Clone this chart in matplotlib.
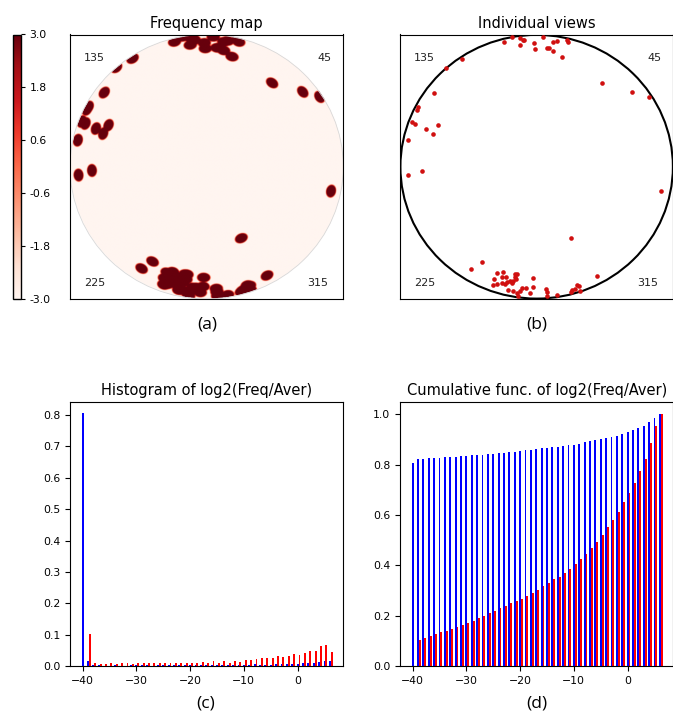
import numpy as np
import matplotlib
matplotlib.use("Agg")
import matplotlib.pyplot as plt
from matplotlib.patches import Circle
from matplotlib.ticker import FormatStrFormatter

# ---------------- data ----------------
# projected view directions (normalised projection coordinates)
view_x = [-0.237, -0.178, -0.120, -0.102, -0.093, -0.020, 0.046, 0.122, 0.151, 0.224,
          0.232, -0.122, -0.012, 0.073, 0.088, 0.122, 0.183,
          -0.544, -0.663, -0.751, -0.866, -0.878, -0.915, -0.888, -0.812, -0.759,
          -0.720, -0.944, -0.939, -0.841,
          0.476, 0.700, 0.824, 0.907, 0.251,
          0.439, 0.293, 0.312, 0.280, 0.261, 0.251, 0.317,
          -0.398, -0.478, -0.293, -0.249, -0.312, -0.256, -0.224, -0.159, -0.146,
          -0.159, -0.195, -0.220, -0.232, -0.256, -0.293, -0.317, -0.183, -0.171,
          -0.154, -0.024, -0.105, -0.078, -0.029, -0.122, -0.141, -0.207, -0.176,
          -0.134, -0.049, 0.068, 0.073, 0.078, 0.151]
view_y = [0.942, 0.980, 0.975, 0.962, 0.955, 0.935, 0.980, 0.942, 0.950, 0.960,
          0.942, 0.919, 0.892, 0.897, 0.899, 0.877, 0.831,
          0.816, 0.748, 0.559, 0.451, 0.431, 0.340, 0.325, 0.287, 0.249,
          0.312, 0.199, -0.065, -0.030,
          0.632, 0.564, 0.526, -0.186, -0.542,
          -0.824, -0.897, -0.902, -0.922, -0.935, -0.947, -0.937,
          -0.718, -0.771, -0.801, -0.796, -0.846, -0.831, -0.834, -0.814, -0.814,
          -0.831, -0.864, -0.872, -0.884, -0.882, -0.889, -0.894, -0.877, -0.864,
          -0.851, -0.839, -0.914, -0.914, -0.907, -0.940, -0.952, -0.935, -0.937,
          -0.977, -0.952, -0.922, -0.947, -0.977, -0.970]

angle_labels = ["135", "45", "225", "315"]
cbar_ticks = [3.0, 1.8, 0.6, -0.6, -1.8, -3.0]

bin_centers = list(range(-40, 7))
hist_blue = [0.805, 0.017, 0.002, 0.002, 0.001, 0.000, 0.002, 0.001, 0.001, 0.002,
             0.002, 0.002, 0.002, 0.001, 0.002, 0.002, 0.002, 0.002, 0.002, 0.002,
             0.002, 0.003, 0.003, 0.002, 0.003, 0.002, 0.003, 0.002, 0.002, 0.002,
             0.003, 0.004, 0.005, 0.004, 0.004, 0.004, 0.005, 0.005, 0.005, 0.006,
             0.007, 0.008, 0.009, 0.010, 0.013, 0.017, 0.015]
hist_red = [0.000, 0.103, 0.010, 0.006, 0.007, 0.008, 0.006, 0.008, 0.008, 0.007,
            0.009, 0.008, 0.010, 0.009, 0.010, 0.010, 0.010, 0.009, 0.011, 0.009,
            0.010, 0.011, 0.012, 0.011, 0.016, 0.010, 0.016, 0.011, 0.016, 0.013,
            0.020, 0.020, 0.022, 0.024, 0.024, 0.025, 0.032, 0.029, 0.032, 0.038,
            0.036, 0.042, 0.047, 0.049, 0.063, 0.068, 0.045]

# ---------------- figure ----------------
W, H = 673, 714
fig = plt.figure(figsize=(W / 100, H / 100), dpi=100)
TICK_FS = 7.8
TITLE_FS = 10.5


def fr(x0, y_top, w, h):
    return [x0 / W, 1 - (y_top + h) / H, w / W, h / H]


ax_a = fig.add_axes(fr(70, 34.5, 273.3, 264.5))
cax = fig.add_axes(fr(13, 34.5, 8, 264.5))
ax_b = fig.add_axes(fr(400, 34.5, 273.3, 264.5))
ax_c = fig.add_axes(fr(70, 401.7, 273.3, 264.3))
ax_d = fig.add_axes(fr(400, 401.7, 273.3, 264.3))

# ---- (a) frequency map built from the views ----
n = 600
gx = np.linspace(-1, 1, n)
GX, GY = np.meshgrid(gx, gx)
dens = np.zeros_like(GX)
sig_t, sig_n = 0.0115, 0.0085
for px, py in zip(view_x, view_y):
    r = np.hypot(px, py)
    nx, ny = px / r, py / r
    tx, ty = -ny, nx
    dx, dy = GX - px, GY - py
    dt = dx * tx + dy * ty
    dn = dx * nx + dy * ny
    dens += np.exp(-0.5 * ((dt / sig_t) ** 2 + (dn / sig_n) ** 2))
field = np.log2(dens + 2.0 ** -60) + 13.0
field = np.clip(field, -3, 3)
field[GX ** 2 + GY ** 2 > 1.0] = np.nan
cmap = plt.get_cmap("Reds").copy()
cmap.set_bad((1, 1, 1, 0))
im = ax_a.imshow(field, extent=[-1, 1, -1, 1], origin="lower", cmap=cmap,
                 vmin=-3, vmax=3, aspect="auto", interpolation="bilinear")
ax_a.add_patch(Circle((0, 0), 1.0, fill=False, edgecolor="#d8d8d8", lw=0.6))
ax_a.set_xlim(-1, 1)
ax_a.set_ylim(-1, 1)
ax_a.set_xticks([])
ax_a.set_yticks([])
ax_a.set_title("Frequency map", fontsize=TITLE_FS, pad=5)

cb = fig.colorbar(im, cax=cax, ticks=cbar_ticks)
cb.ax.yaxis.set_major_formatter(FormatStrFormatter("%.1f"))
cb.ax.tick_params(labelsize=TICK_FS, length=3, pad=3)
cb.outline.set_linewidth(1.0)

label_pos = [(0.09, 0.91), (0.93, 0.91), (0.09, 0.06), (0.905, 0.06)]
for ax in (ax_a, ax_b):
    for lab, (lx, ly) in zip(angle_labels, label_pos):
        ax.text(lx, ly, lab, transform=ax.transAxes, ha="center", va="center",
                fontsize=8, color="#222222")

# ---- (b) individual views ----
ax_b.scatter(view_x, view_y, s=11, color="#d01010", zorder=3, linewidths=0)
ax_b.add_patch(Circle((0, 0), 0.997, fill=False, edgecolor="black", lw=1.5))
ax_b.set_xlim(-1, 1)
ax_b.set_ylim(-1, 1)
ax_b.set_xticks([])
ax_b.set_yticks([])
ax_b.set_title("Individual views", fontsize=TITLE_FS, pad=5)

# ---- (c) histogram ----
x = np.array(bin_centers, dtype=float)
bw = 0.35
ax_c.bar(x, hist_blue, width=bw, color="blue")
ax_c.bar(x + bw, hist_red, width=bw, color="red")
ax_c.set_xlim(-42.35, 8.5)
ax_c.set_ylim(0, 0.8425)
ax_c.set_yticks(np.arange(0, 0.81, 0.1))
ax_c.set_xticks([-40, -30, -20, -10, 0])
ax_c.tick_params(labelsize=TICK_FS, length=3.5)
ax_c.set_title("Histogram of log2(Freq/Aver)", fontsize=TITLE_FS, pad=5)

# ---- (d) cumulative ----
cum_blue = np.cumsum(hist_blue)
cum_red = np.cumsum(hist_red)
ax_d.bar(x, cum_blue, width=bw, color="blue")
ax_d.bar(x + bw, cum_red, width=bw, color="red")
ax_d.set_xlim(-42.35, 8.5)
ax_d.set_ylim(0, 1.05)
ax_d.set_yticks(np.arange(0, 1.01, 0.2))
ax_d.set_xticks([-40, -30, -20, -10, 0])
ax_d.tick_params(labelsize=TICK_FS, length=3.5)
ax_d.set_title("Cumulative func. of log2(Freq/Aver)", fontsize=TITLE_FS, pad=5)

# ---- panel letters ----
for lab, (cx, cy) in zip(["(a)", "(b)", "(c)", "(d)"],
                         [(207, 325), (537, 325), (206, 703), (537, 703)]):
    fig.text(cx / W, 1 - cy / H, lab, ha="center", va="center",
             fontsize=12.5, family=["Open Sans", "DejaVu Sans"])

fig.savefig("out.png", dpi=100)
